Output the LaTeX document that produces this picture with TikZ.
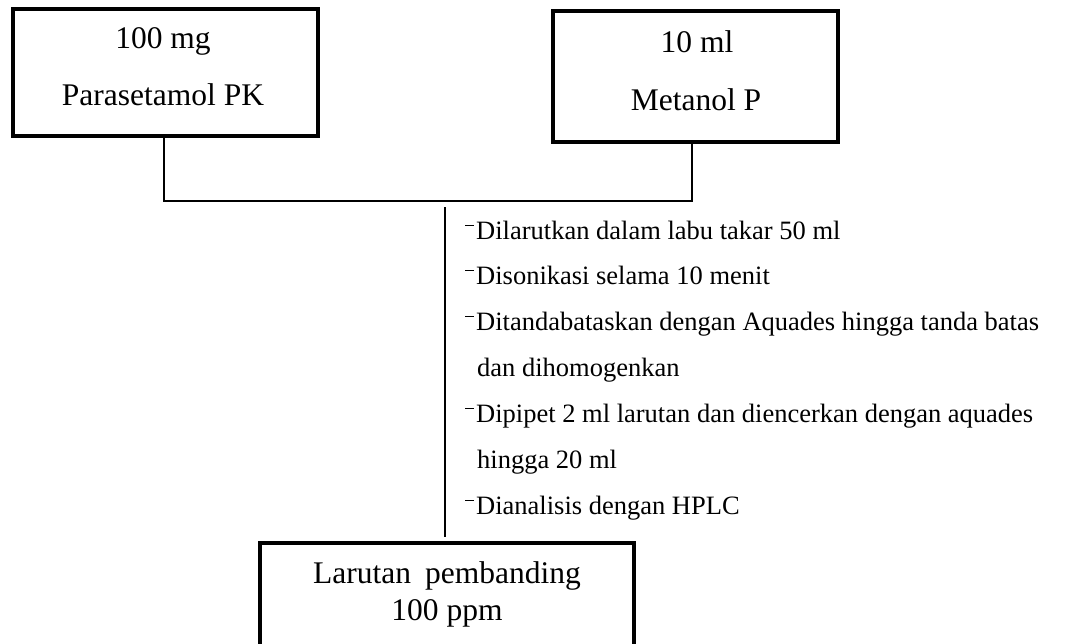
\documentclass[tikz,border=0pt]{standalone}
\usepackage{fontspec}
\setmainfont{Liberation Serif}
\newcommand{\dmark}{\rule[13pt]{9pt}{1.2pt}\hspace{2pt}}
\begin{document}
\begin{tikzpicture}[x=1pt,y=-1pt,
  boxstyle/.style={draw=black,line width=3.5pt,rectangle,inner sep=0pt,outer sep=0pt},
  boxtext/.style={inner sep=0pt,anchor=base,font=\fontsize{31.5}{36}\selectfont},
  listtext/.style={inner sep=0pt,anchor=base west,font=\fontsize{26.5}{30}\selectfont},
  conn/.style={line width=1.8pt}]
\clip (0,0) rectangle (1068,643);
% boxes
\node[boxstyle,minimum width=305pt,minimum height=127pt] (box1) at (165.5,72.5) {};
\node[boxstyle,minimum width=285pt,minimum height=131pt] (box2) at (695.5,76.5) {};
\node[boxstyle,minimum width=374pt,minimum height=137pt] (box3) at (447,611.5) {};
% box texts
\node[boxtext] (t1a) at (163,48) {100 mg};
\node[boxtext] (t1b) at (163,105) {Parasetamol PK};
\node[boxtext] (t2a) at (697,52) {10 ml};
\node[boxtext] (t2b) at (696,110) {Metanol P};
\node[boxtext] (t3a) at (447,583) {Larutan\hspace{14pt}pembanding};
\node[boxtext] (t3b) at (447,620) {100 ppm};
% connectors
\coordinate (j1) at (164,201);
\coordinate (j2) at (692,201);
\draw[conn] (box2.south -| j2) -- (j2) -- (j1) -- (box1.south -| j1);
\coordinate (vtop) at (445,207);
\draw[conn,line width=2pt,shorten >=6pt] (vtop) -- (box3.north -| vtop);
% list
\node[listtext] (l1) at (465,239) {\dmark Dilarutkan dalam labu takar 50 ml};
\node[listtext] (l2) at (465,284) {\dmark Disonikasi selama 10 menit};
\node[listtext] (l3) at (465,330) {\dmark Ditandabataskan dengan Aquades hingga tanda batas};
\node[listtext] (l4) at (477,376) {dan dihomogenkan};
\node[listtext] (l5) at (465,422) {\dmark Dipipet 2 ml larutan dan diencerkan dengan aquades};
\node[listtext] (l6) at (477,468) {hingga 20 ml};
\node[listtext] (l7) at (465,514) {\dmark Dianalisis dengan HPLC};
\end{tikzpicture}
\end{document}
